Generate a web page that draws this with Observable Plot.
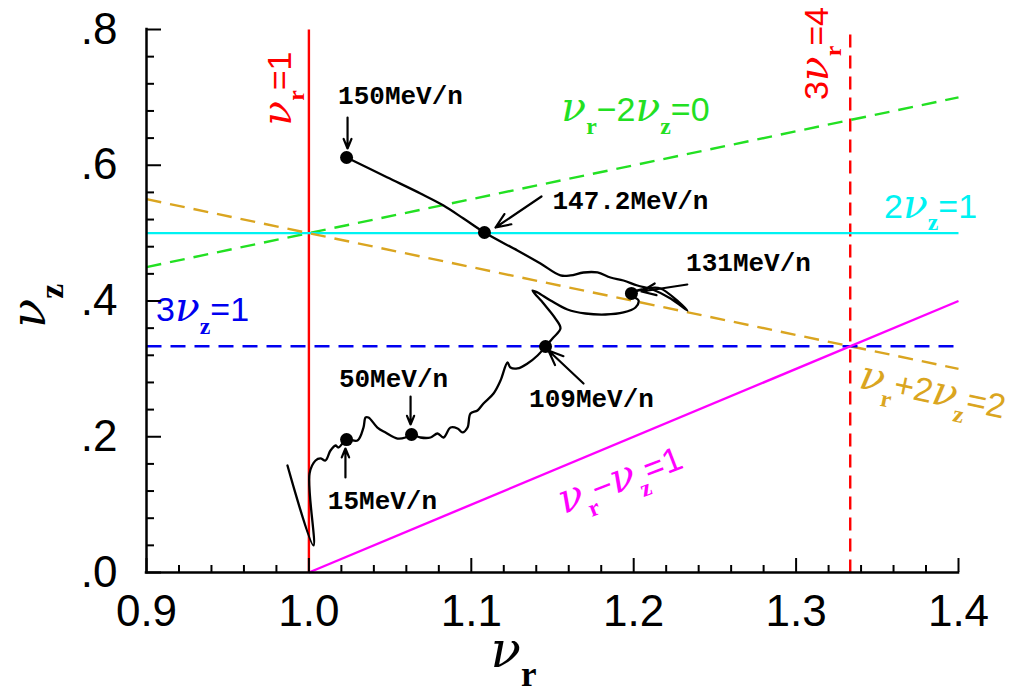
<!DOCTYPE html>
<html><head><meta charset="utf-8">
<script src="https://cdn.jsdelivr.net/npm/d3@7"></script>
<script src="https://cdn.jsdelivr.net/npm/@observablehq/plot@0.6"></script>
<style>body{margin:0;background:#fff;}</style>
</head><body><div id="chart"></div>
<script>
// Trajectory (nu_r, nu_z) as energy increases
const trajX = [0.9868,1.0028,1.0004,1.0041,1.0071,1.0102,1.0133,1.0164,1.0182,1.0232,1.0299,1.0336,1.0349,1.0367,1.0422,1.0472,1.0546,1.0595,1.0632,1.0687,1.0749,1.0792,1.0829,1.0872,1.0915,1.0946,1.0977,1.0995,1.1038,1.1075,1.1137,1.1180,1.1223,1.1241,1.1284,1.1346,1.1408,1.1457,1.1500,1.1549,1.1518,1.1445,1.1377,1.1408,1.1488,1.1592,1.1703,1.1826,1.1937,1.2011,1.2030,1.1999,1.1986,1.2085,1.2165,1.2331,1.2227,1.2116,1.2023,1.1937,1.1857,1.1777,1.1691,1.1611,1.1549,1.1426,1.1284,1.1081,1.0952,1.0829,1.0687,1.0484,1.0232];
const trajY = [0.1576,0.0398,0.1459,0.1650,0.1680,0.1650,0.1797,0.1871,0.1842,0.1959,0.1945,0.2136,0.2284,0.2284,0.2136,0.2063,0.1974,0.1989,0.2033,0.1989,0.1989,0.2048,0.1989,0.2136,0.2122,0.2063,0.2136,0.2343,0.2387,0.2490,0.2637,0.2829,0.3094,0.3020,0.3006,0.3079,0.3197,0.3330,0.3448,0.3595,0.3742,0.3963,0.4155,0.4125,0.4007,0.3875,0.3816,0.3801,0.3831,0.3904,0.4007,0.4066,0.4111,0.4184,0.4184,0.3860,0.4037,0.4169,0.4228,0.4302,0.4346,0.4420,0.4420,0.4376,0.4376,0.4552,0.4744,0.5009,0.5215,0.5407,0.5584,0.5820,0.6114];

// Marked energies
const dotLabels = ["15MeV/n","50MeV/n","109MeV/n","131MeV/n","147.2MeV/n","150MeV/n"];
const dotX = [1.0232,1.0632,1.1457,1.1986,1.1081,1.0232];
const dotY = [0.1959,0.2033,0.3330,0.4111,0.5009,0.6114];
const labelX = [1.0453,1.0521,1.174,1.2707,1.198,1.0564];
const labelY = [0.1061,0.2858,0.2564,0.4567,0.548,0.7028];
const arrowX1 = [1.0225,1.0626,1.1691,1.2330,1.1432,1.0238];
const arrowY1 = [0.1400,0.2593,0.2785,0.4243,0.5540,0.6703];
const arrowX2 = [1.0225,1.0626,1.1475,1.2048,1.1149,1.0238];
const arrowY2 = [0.1827,0.2181,0.3271,0.4140,0.5083,0.6247];

// Resonance lines
const resNames = ["ν_r=1","3ν_r=4","ν_r−2ν_z=0","2ν_z=1","ν_r+2ν_z=2","3ν_z=1","ν_r−ν_z=1"];
const resX1 = [1, 4/3, 0.9, 0.9, 0.9, 0.9, 1.0];
const resY1 = [0, 0, 0.45, 0.5, 0.55, 1/3, 0];
const resX2 = [1, 4/3, 1.4, 1.4, 1.4, 1.4, 1.4];
const resY2 = [0.8, 0.8, 0.7, 0.5, 0.3, 1/3, 0.4];
const resColors = ["#ff0000","#ff0000","#22e022","#00f2f2","#daa520","#0000f0","#ff00ff"];
const resDash = [null,"13,8","15,9",null,"15,9","15,9",null];
const resLabelX = [0.9825,1.3132,1.2011,1.3828,1.384,0.9345,1.1919];
const resLabelY = [0.713,0.7646,0.6807,0.539,0.2652,0.386,0.1355];
const resLabelAngle = [-90,-90,0,0,12,0,-21];

// Axes ticks
const xMajor = [0.9,1.0,1.1,1.2,1.3,1.4];
const xMinor = [0.92,0.94,0.96,0.98,1.02,1.04,1.06,1.08,1.12,1.14,1.16,1.18,1.22,1.24,1.26,1.28,1.32,1.34,1.36,1.38];
const yMajor = [0,0.2,0.4,0.6,0.8];
const yMinor = [0.04,0.08,0.12,0.16,0.24,0.28,0.32,0.36,0.44,0.48,0.52,0.56,0.64,0.68,0.72,0.76];
const xTickLabels = ["0.9","1.0","1.1","1.2","1.3","1.4"];
const yTickLabels = [".0",".2",".4",".6",".8"];

const trajIdx = d3.range(trajX.length);
const dotIdx = d3.range(dotX.length);

const marks = [
  ...resNames.map((_, i) => Plot.link([i], {
    x1: j => resX1[j], y1: j => resY1[j], x2: j => resX2[j], y2: j => resY2[j],
    stroke: resColors[i], strokeWidth: 2.4, strokeDasharray: resDash[i]
  })),
  Plot.line(trajIdx, {x: i => trajX[i], y: i => trajY[i], curve: "catmull-rom", stroke: "black", strokeWidth: 2.3}),
  Plot.dot(dotIdx, {x: i => dotX[i], y: i => dotY[i], r: 6.5, fill: "black"}),
  Plot.arrow(dotIdx, {x1: i => arrowX1[i], y1: i => arrowY1[i], x2: i => arrowX2[i], y2: i => arrowY2[i],
    stroke: "black", strokeWidth: 2.2, headLength: 11, headAngle: 45}),
  Plot.text(dotIdx, {x: i => labelX[i], y: i => labelY[i], text: i => dotLabels[i],
    fontFamily: "'Liberation Mono', monospace", fontWeight: "bold", fontSize: 26, fill: "black"}),
  ...resNames.map((_, i) => Plot.text([i], {
    x: j => resLabelX[j], y: j => resLabelY[j], text: j => resNames[j],
    rotate: resLabelAngle[i], fill: resColors[i], fontSize: 34, textAnchor: "middle", lineAnchor: "middle"
  })),
  // axis lines
  Plot.ruleX([0.9], {y1: 0, y2: 0.8, strokeWidth: 2.5, strokeLinecap: "square"}),
  Plot.ruleY([0], {x1: 0.9, x2: 1.4, strokeWidth: 2.5, strokeLinecap: "square"}),
  // inward ticks
  Plot.ruleX(xMajor, {y1: 0, y2: 0, insetBottom: 14, strokeWidth: 2}),
  Plot.ruleX(xMinor, {y1: 0, y2: 0, insetBottom: 7, strokeWidth: 2}),
  Plot.ruleY(yMajor, {x1: 0.9, x2: 0.9, insetRight: -15, strokeWidth: 2}),
  Plot.ruleY(yMinor, {x1: 0.9, x2: 0.9, insetRight: -8, strokeWidth: 2}),
  Plot.axisX(xMajor, {tickSize: 0, tickPadding: 22, fontSize: 44, tickFormat: (d, i) => xTickLabels[i], label: null}),
  Plot.axisY(yMajor, {tickSize: 0, tickPadding: 29, fontSize: 44, tickFormat: (d, i) => yTickLabels[i], label: null}),
  // axis titles
  Plot.text(["ν_r"], {frameAnchor: "bottom", dx: -39, dy: 78, fontSize: 50, textAnchor: "middle", lineAnchor: "middle"}),
  Plot.text(["ν_z"], {frameAnchor: "left", dx: -117, dy: 5, rotate: -90, fontSize: 48, textAnchor: "middle", lineAnchor: "middle"})
];

const svg = Plot.plot({
  width: 1014, height: 694,
  marginLeft: 146, marginRight: 56, marginTop: 29, marginBottom: 122,
  x: {domain: [0.9, 1.4]},
  y: {domain: [0, 0.8]},
  style: {fontFamily: "'Liberation Sans', Arial, sans-serif", background: "white", overflow: "visible"},
  marks
});

// Build subscripts and italic nu as tspans
d3.select(svg).selectAll("text").each(function() {
  const s = this.textContent;
  if (!s.includes("ν")) return;
  let fs = +(this.getAttribute("font-size") || (this.parentNode && this.parentNode.getAttribute("font-size")) || 32);
  if (!fs) fs = 32;
  const subSize = fs * 0.7, shift = fs * 0.38;
  const nuSize = fs >= 45 ? fs : fs * 1.2;
  const el = d3.select(this);
  this.textContent = "";
  let off = 0;
  for (let i = 0; i < s.length; i++) {
    let c = s[i], isSub = false;
    if (c === "_") { c = s[++i]; isSub = true; }
    const t = el.append("tspan").text(c);
    const target = isSub ? shift : 0;
    if (target !== off) { t.attr("dy", target - off); off = target; }
    if (isSub) t.attr("font-family", "'Liberation Serif', serif").attr("font-weight", "bold").attr("font-size", subSize);
    else if (c === "ν") t.attr("font-family", "'DejaVu Serif', serif").attr("font-style", "italic").attr("font-size", nuSize);
    else t.attr("font-family", "'Liberation Sans', sans-serif");
  }
});

document.getElementById("chart").appendChild(svg);
</script></body></html>
